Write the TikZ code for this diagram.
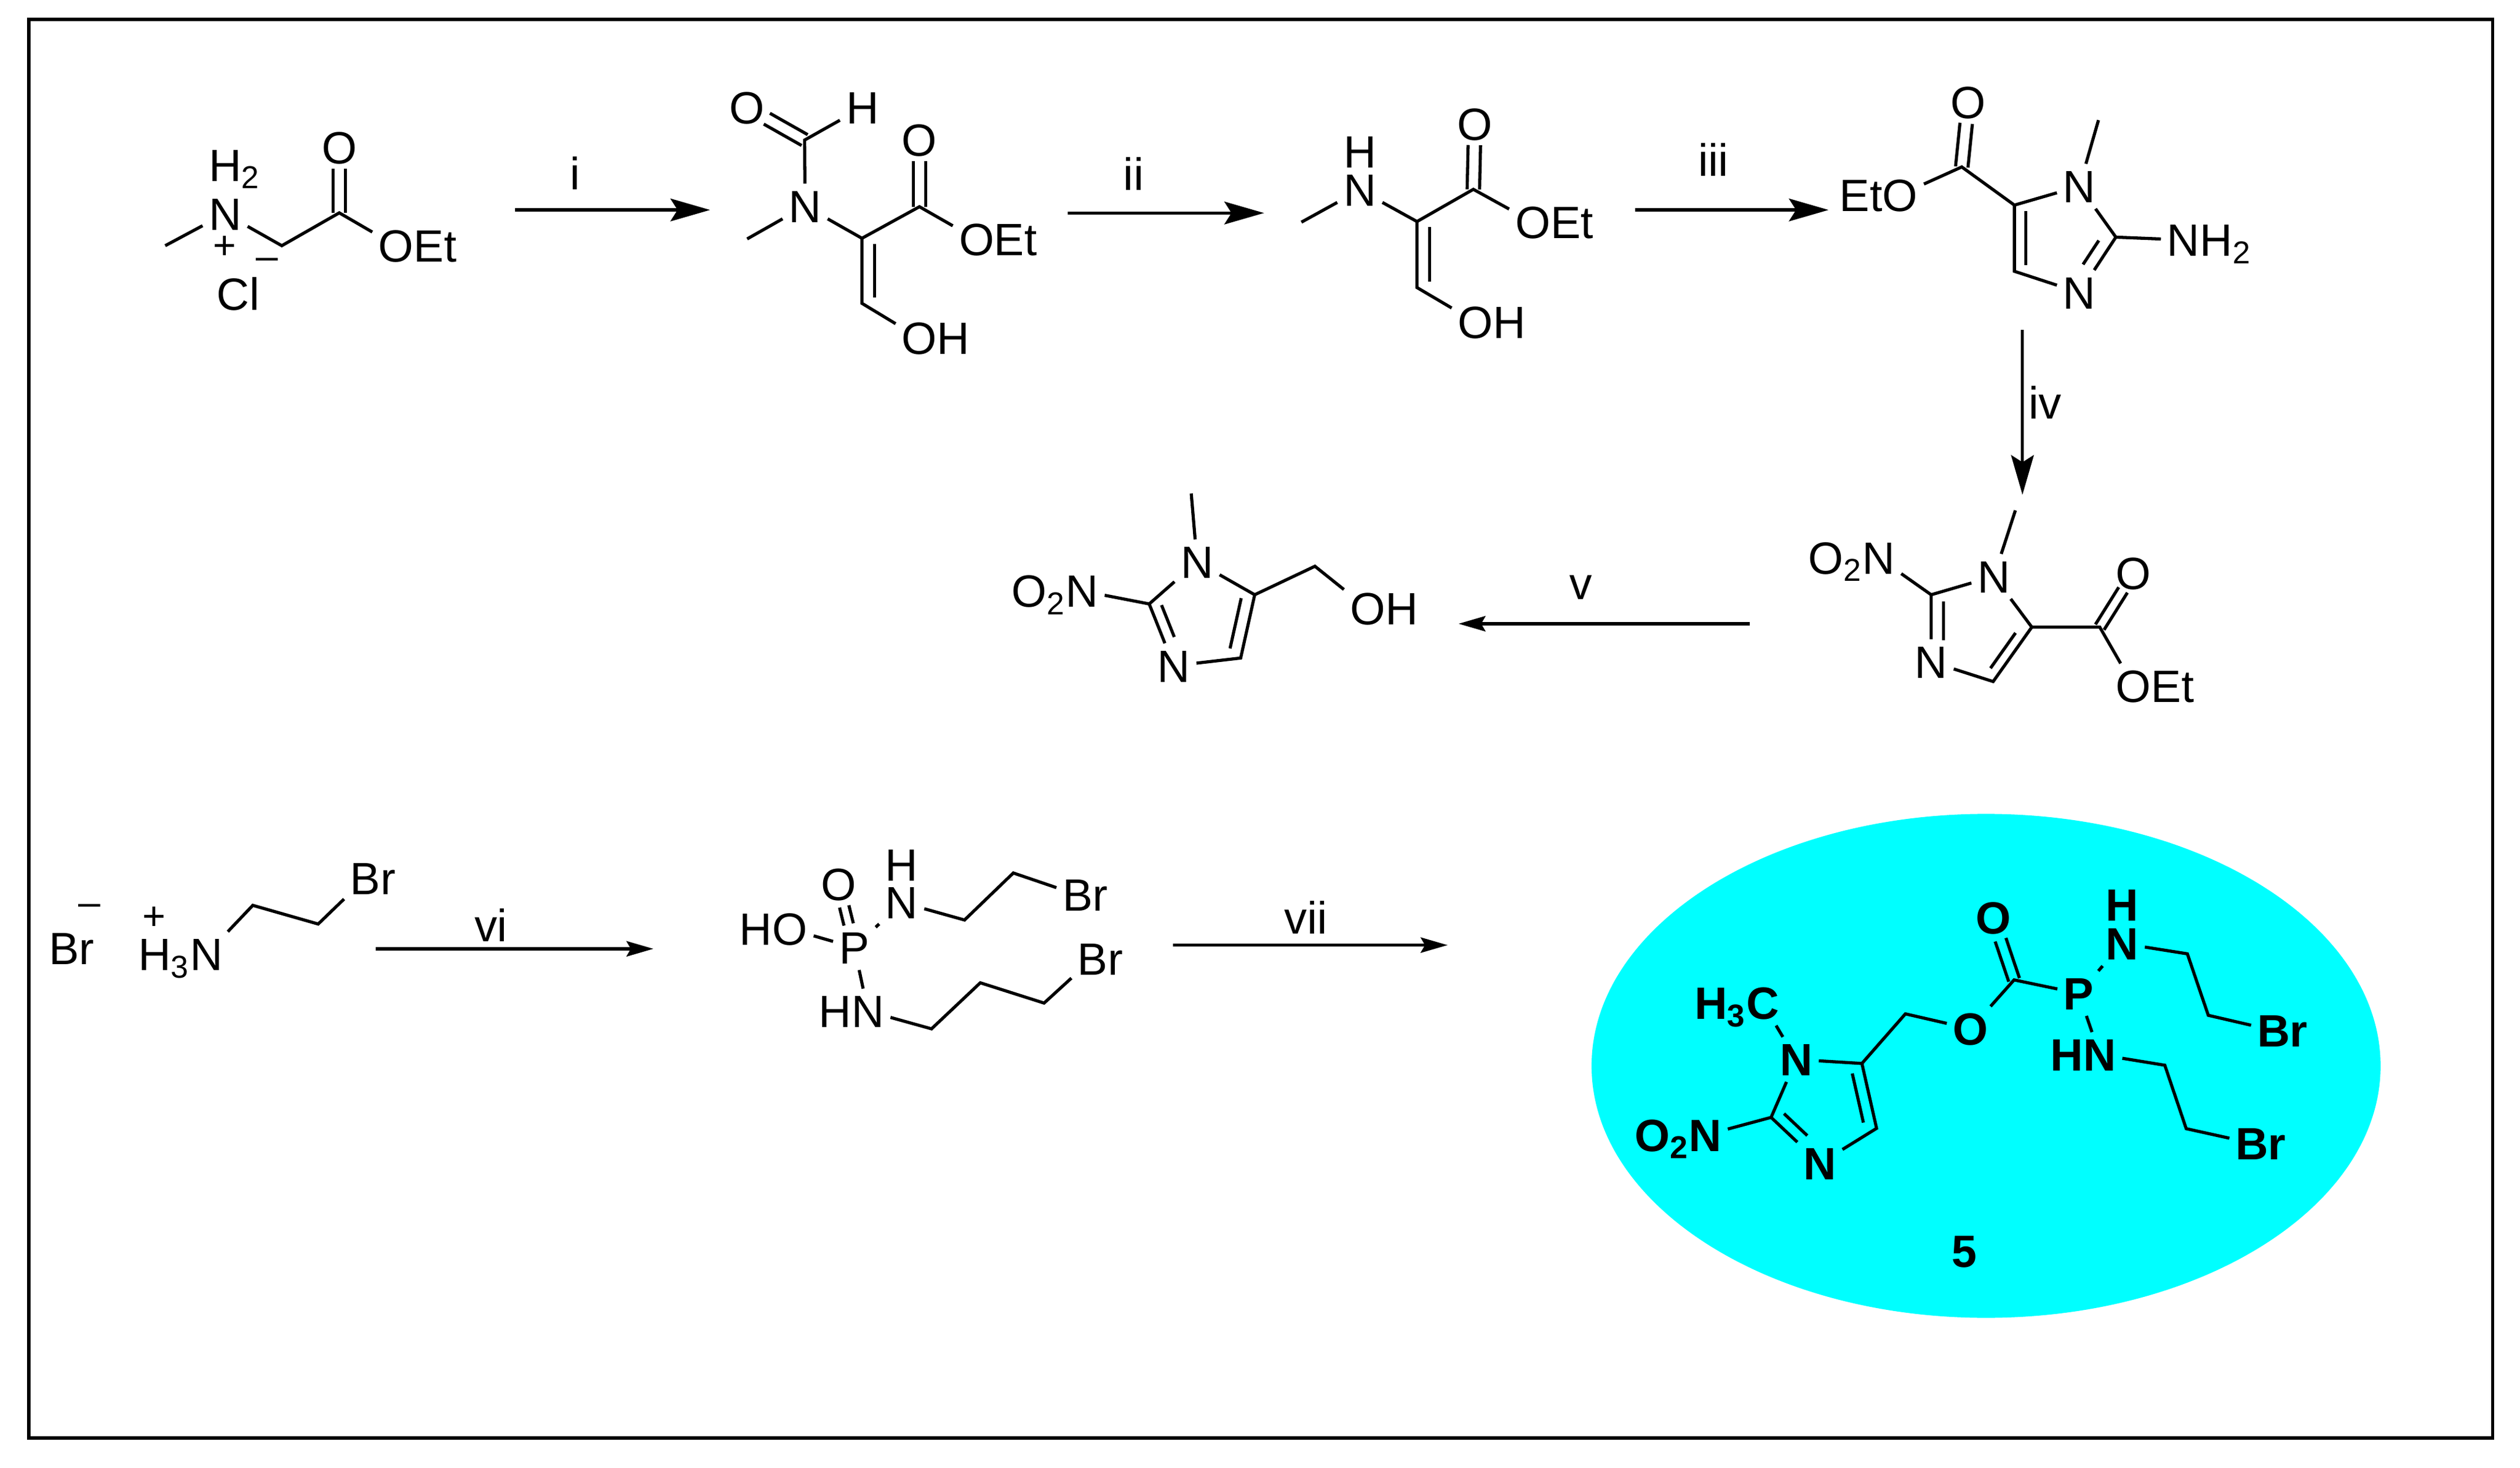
\documentclass[tikz,border=0pt]{standalone}
\usepackage{fontspec}
\setmainfont{Liberation Sans}
\usetikzlibrary{arrows.meta,calc}
\definecolor{aqua}{HTML}{00FFFF}
\tikzstyle{bond} = [line width=1.1pt]
\tikzstyle{frameline} = [line width=1.2pt]
\tikzstyle{bigarrow} = [line width=1.1pt,-{Stealth[length=14pt,width=8pt,inset=2.5pt]}]
\tikzstyle{smallarrow} = [line width=1.1pt,-{Stealth[length=9.5pt,width=5.4pt,inset=1.5pt]}]
\tikzstyle{atom} = [inner sep=2pt,font=\fontsize{16}{16}\selectfont,text height=11.5pt,text depth=0pt]
\tikzstyle{batom} = [atom,font=\fontsize{16}{16}\selectfont\bfseries]
\tikzstyle{charge} = [inner sep=0pt,font=\fontsize{14}{14}\selectfont]
\newcommand{\pbond}[4][]{\draw[bond,#1] ($(#2)!#4!90:(#3)$) -- ($(#3)!#4!-90:(#2)$);}

\begin{document}
\begin{tikzpicture}[x=0.02cm,y=-0.02cm]
	\useasboundingbox (0,0) rectangle (1565,911.4);
	\coordinate (fa) at (18,12);
	\coordinate (fb) at (1548,893);
	\draw[frameline] (fa) rectangle (fb);

	\node[atom] (n1) at (139.8,132.7) {N};
	\node[atom] (h1) at (139.8,102.5) {H\rlap{\textsubscript{2}}};
	\node[atom] (o1) at (210.7,91.7) {O};
	\node[atom] (oe1) at (246,152.7) {O\rlap{Et}};
	\node[atom] (cl1) at (148,182.5) {Cl};
	\node[charge] (pl1) at (139.5,153.7) {+};
	\node[charge] (mi1) at (166,164) {–};
	\coordinate (me1) at (102.6,152.6);
	\coordinate (ch1) at (175,152.6);
	\coordinate (co1) at (210.7,132.2);
	\draw[bond] (me1) -- (n1) -- (ch1) -- (co1) -- (oe1);
	\pbond[shorten >=7.5pt]{co1}{o1}{2.2pt}
	\pbond[shorten >=7.5pt]{co1}{o1}{-2.2pt}

	\coordinate (a1s) at (320,130.4);
	\coordinate (a1e) at (441,130.4);
	\draw[bigarrow] (a1s) -- (a1e);
	\node[atom] (li) at (357,107.5) {i};

	\node[atom] (n2) at (500,128) {N};
	\node[atom] (of2) at (464,66.8) {O};
	\node[atom] (hf2) at (535.6,66.8) {H};
	\node[atom] (o2) at (571,87) {O};
	\node[atom] (oe2) at (606.5,148.7) {O\rlap{Et}};
	\node[atom] (oh2) at (571,210) {O\rlap{H}};
	\coordinate (cf2) at (499.7,87);
	\coordinate (me2) at (464,148.4);
	\coordinate (ca2) at (535.3,148);
	\coordinate (co2) at (571,128.4);
	\coordinate (cb2) at (535.3,188.4);
	\draw[bond] (hf2) -- (cf2) -- (n2) -- (me2);
	\draw[bond] (n2) -- (ca2) -- (co2) -- (oe2);
	\draw[bond] (ca2) -- (cb2) -- (oh2);
	\pbond[shorten >=8pt]{cf2}{of2}{2.2pt}
	\pbond[shorten >=8pt]{cf2}{of2}{-2.2pt}
	\pbond[shorten >=7.5pt]{co2}{o2}{2.2pt}
	\pbond[shorten >=7.5pt]{co2}{o2}{-2.2pt}
	\pbond[shorten >=2pt,shorten <=2pt]{ca2}{cb2}{4.4pt}

	\coordinate (a2s) at (663,132.3);
	\coordinate (a2e) at (785,132.3);
	\draw[bigarrow] (a2s) -- (a2e);
	\node[atom] (lii) at (704,108) {ii};

	\node[atom] (n3) at (844.5,118) {N};
	\node[atom] (h3) at (844.5,94) {H};
	\node[atom] (o3) at (915.9,77) {O};
	\node[atom] (oe3) at (952,138) {O\rlap{Et}};
	\node[atom] (oh3) at (916.3,200) {O\rlap{H}};
	\coordinate (me3) at (808.2,138);
	\coordinate (ca3) at (880,137.6);
	\coordinate (co3) at (915,117.6);
	\coordinate (cb3) at (880,178.6);
	\draw[bond] (me3) -- (n3) -- (ca3) -- (co3) -- (oe3);
	\draw[bond] (ca3) -- (cb3) -- (oh3);
	\pbond[shorten >=7.5pt]{co3}{o3}{2.2pt}
	\pbond[shorten >=7.5pt]{co3}{o3}{-2.2pt}
	\pbond[shorten >=2pt,shorten <=2pt]{ca3}{cb3}{4.5pt}

	\coordinate (a3s) at (1015.3,130.4);
	\coordinate (a3e) at (1135.6,130.4);
	\draw[bigarrow] (a3s) -- (a3e);
	\node[atom] (liii) at (1063.9,99.3) {iii};

	\node[atom] (oe4) at (1180,121) {\llap{Et}O};
	\node[atom] (o4) at (1222.4,63.5) {O};
	\node[atom] (n4) at (1291.4,115.7) {N};
	\node[atom] (nb4) at (1291.4,181.7) {N};
	\node[atom] (nh4) at (1356,149) {N\rlap{H\textsubscript{2}}};
	\coordinate (co4) at (1218.3,103.7);
	\coordinate (ca4) at (1251,127.4);
	\coordinate (cb4) at (1251,168.5);
	\coordinate (cc4) at (1314,147.3);
	\coordinate (me4) at (1303.2,74.6);
	\draw[bond] (oe4) -- (co4) -- (ca4) -- (n4) -- (cc4) -- (nb4) -- (cb4) -- (ca4);
	\draw[bond] (n4) -- (me4);
	\draw[bond] (cc4) -- (nh4);
	\pbond[shorten >=7.5pt]{co4}{o4}{2.2pt}
	\pbond[shorten >=7.5pt]{co4}{o4}{-2.2pt}
	\pbond[shorten >=2.2pt,shorten <=2.2pt]{ca4}{cb4}{4pt}
	\pbond[shorten >=9pt,shorten <=4.3pt]{cc4}{nb4}{-4.4pt}

	\coordinate (a4s) at (1256,204.7);
	\coordinate (a4e) at (1256,307.3);
	\draw[bigarrow] (a4s) -- (a4e);
	\node[atom] (liv) at (1270,250) {iv};

	\node[atom] (n5) at (1238.3,358) {N};
	\node[atom] (no5) at (1166.7,346.4) {\llap{O\textsubscript{2}}N};
	\node[atom] (nb5) at (1199.3,411) {N};
	\node[atom] (o5) at (1325,356) {O};
	\node[atom] (oe5) at (1325,426) {O\rlap{Et}};
	\coordinate (me5) at (1251.6,317);
	\coordinate (cc5) at (1199.3,369.4);
	\coordinate (cb5) at (1237.8,423.3);
	\coordinate (ca5) at (1261.8,389.5);
	\coordinate (co5) at (1304,389.5);
	\draw[bond] (me5) -- (n5) -- (cc5) -- (nb5) -- (cb5) -- (ca5) -- (n5);
	\draw[bond] (no5) -- (cc5);
	\draw[bond] (ca5) -- (co5) -- (oe5);
	\pbond[shorten >=7pt]{co5}{o5}{1.8pt}
	\pbond[shorten >=7pt]{co5}{o5}{-1.8pt}
	\pbond[shorten >=7.7pt,shorten <=2.4pt]{cc5}{nb5}{4.4pt}
	\pbond[shorten >=5pt,shorten <=3.3pt]{cb5}{ca5}{3.5pt}

	\coordinate (a5s) at (1086.6,387.4);
	\coordinate (a5e) at (905.8,387.4);
	\draw[smallarrow] (a5s) -- (a5e);
	\node[atom] (lv) at (981.6,362) {v};

	\node[atom] (n6) at (743.4,349) {N};
	\node[atom] (no6) at (672,367) {\llap{O\textsubscript{2}}N};
	\node[atom] (nb6) at (729,413.5) {N};
	\node[atom] (oh6) at (849.4,378) {O\rlap{H}};
	\coordinate (me6) at (739.8,306.5);
	\coordinate (cc6) at (713.7,375.1);
	\coordinate (cb6) at (770.5,408.7);
	\coordinate (ca6) at (779.2,369.4);
	\coordinate (ch6) at (816.6,351.7);
	\draw[bond] (me6) -- (n6) -- (cc6) -- (nb6) -- (cb6) -- (ca6) -- (n6);
	\draw[bond] (no6) -- (cc6);
	\draw[bond] (ca6) -- (ch6) -- (oh6);
	\pbond[shorten >=9.4pt,shorten <=2pt]{cc6}{nb6}{3.9pt}
	\pbond[shorten >=2.2pt,shorten <=2.5pt]{cb6}{ca6}{4.4pt}

	\node[atom] (br7) at (44.5,589) {Br};
	\node[charge] (mi7) at (55.5,565) {–};
	\node[charge] (pl7) at (95.6,570.2) {+};
	\node[atom] (n7) at (128.2,592.6) {\llap{H\textsubscript{3}}N};
	\node[atom] (bb7) at (226.9,545.6) {B\rlap{r}};
	\coordinate (ca7) at (157,562.3);
	\coordinate (cb7) at (197.6,573.9);
	\draw[bond] (n7) -- (ca7) -- (cb7) -- (bb7);

	\coordinate (a6s) at (233.5,589.3);
	\coordinate (a6e) at (405.8,589.3);
	\draw[smallarrow] (a6s) -- (a6e);
	\node[atom] (lvi) at (305,574.5) {vi};

	\node[atom] (p8) at (530.6,588.5) {P};
	\node[atom] (o8) at (520.8,549) {O};
	\node[atom] (ho8) at (490.5,577) {\llap{H}O};
	\node[atom] (h8) at (560,537) {H};
	\node[atom] (n8) at (560,560.5) {N};
	\node[atom] (nb8) at (539,628) {\llap{H}N};
	\node[atom] (br8) at (669.3,555.8) {B\rlap{r}};
	\node[atom] (bs8) at (678.6,595.4) {B\rlap{r}};
	\coordinate (ca8) at (599,571.4);
	\coordinate (cb8) at (629.3,542.2);
	\coordinate (cc8) at (578.5,639);
	\coordinate (cd8) at (608.8,610.4);
	\coordinate (ce8) at (648.4,623);
	\draw[bond] (ho8) -- (p8) -- (n8) -- (ca8) -- (cb8) -- (br8);
	\draw[bond] (p8) -- (nb8) -- (cc8) -- (cd8) -- (ce8) -- (bs8);
	\pbond[shorten >=8.2pt,shorten <=8.4pt]{p8}{o8}{1.7pt}
	\pbond[shorten >=8.2pt,shorten <=8.4pt]{p8}{o8}{-1.7pt}

	\coordinate (a7s) at (728.5,587);
	\coordinate (a7e) at (899,587);
	\draw[smallarrow] (a7s) -- (a7e);
	\node[atom] (lvii) at (811,570) {vii};

	\fill[aqua] (1233.4,662) ellipse [x radius=245,y radius=156.5];
	\node[batom] (c9) at (1094.7,623) {\llap{H\textsubscript{3}}C};
	\node[batom] (n9) at (1115.5,658) {N};
	\node[batom] (no9) at (1059,705) {\llap{O\textsubscript{2}}N};
	\node[batom] (nb9) at (1130.2,722.6) {N};
	\node[batom] (oa9) at (1223.8,639) {O};
	\node[batom] (o9) at (1237.8,570) {O};
	\node[batom] (p9) at (1290.9,617) {P};
	\node[batom] (h9) at (1318,562) {H};
	\node[batom] (na9) at (1318,586) {N};
	\node[batom] (nc9) at (1304,655) {\llap{H}N};
	\node[batom] (br9) at (1412,640) {B\rlap{r}};
	\node[batom] (bs9) at (1398.5,710) {B\rlap{r}};
	\node[batom] (num9) at (1219.8,777) {5};
	\coordinate (cc9) at (1099.9,694);
	\coordinate (cb9) at (1165.4,700.8);
	\coordinate (ca9) at (1156.3,660.5);
	\coordinate (ch9) at (1183.3,629.7);
	\coordinate (co9) at (1250.8,608.6);
	\coordinate (cd9) at (1358.4,592.4);
	\coordinate (ce9) at (1371.4,630.6);
	\coordinate (cf9) at (1344.4,661.6);
	\coordinate (cg9) at (1357.7,701);
	\draw[bond] (c9) -- (n9) -- (cc9) -- (nb9) -- (cb9) -- (ca9) -- (n9);
	\draw[bond] (no9) -- (cc9);
	\draw[bond] (ca9) -- (ch9) -- (oa9) -- (co9) -- (p9);
	\draw[bond] (p9) -- (na9) -- (cd9) -- (ce9) -- (br9);
	\draw[bond] (p9) -- (nc9) -- (cf9) -- (cg9) -- (bs9);
	\pbond[shorten >=8.2pt]{co9}{o9}{2pt}
	\pbond[shorten >=8.2pt]{co9}{o9}{-2pt}
	\pbond[shorten >=10pt,shorten <=2.4pt]{cc9}{nb9}{4.1pt}
	\pbond[shorten >=2.7pt,shorten <=3pt]{cb9}{ca9}{4.1pt}
\end{tikzpicture}
\end{document}
